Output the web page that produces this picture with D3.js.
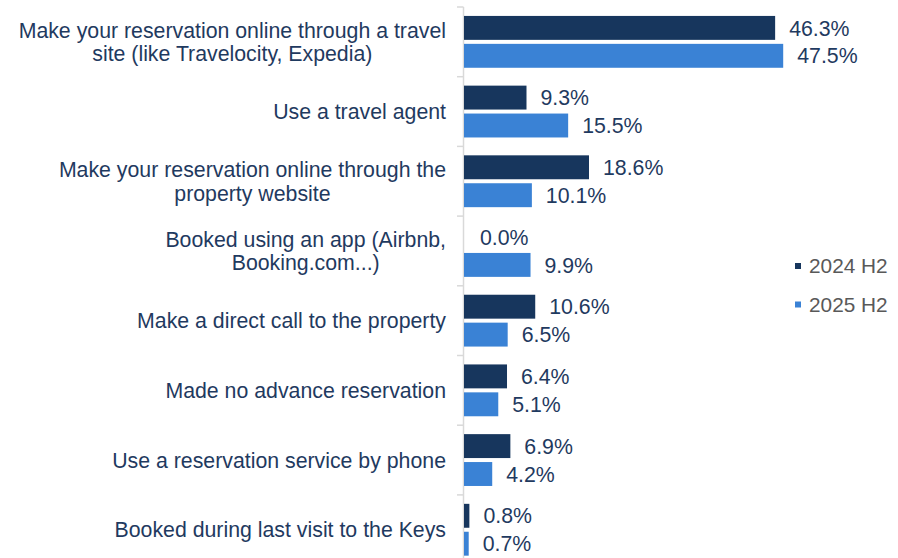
<!DOCTYPE html>
<html>
<head>
<meta charset="utf-8">
<script src="https://cdn.jsdelivr.net/npm/d3@7"></script>
<style>
  html, body { margin: 0; padding: 0; background: #ffffff; }
  svg { display: block; font-family: "Liberation Sans", Arial, sans-serif; }
</style>
</head>
<body>
<svg id="chart" width="898" height="558"></svg>
<script>
const categories = [
  "Make your reservation online through a travel\nsite (like Travelocity, Expedia)",
  "Use a travel agent",
  "Make your reservation online through the\nproperty website",
  "Booked using an app (Airbnb,\nBooking.com...)",
  "Make a direct call to the property",
  "Made no advance reservation",
  "Use a reservation service by phone",
  "Booked during last visit to the Keys"
];
const seriesNames = ["2024 H2", "2025 H2"];
const values2024H2 = [46.3, 9.3, 18.6, 0.0, 10.6, 6.4, 6.9, 0.8];
const values2025H2 = [47.5, 15.5, 10.1, 9.9, 6.5, 5.1, 4.2, 0.7];
const seriesValues = [values2024H2, values2025H2];
const seriesColors = ["#17365d", "#3a82d5"];

const svg = d3.select("#chart");
const textColor = "#1f3a60";
const fontSize = 21.3;

const y0 = d3.scaleBand().domain(d3.range(categories.length)).range([7, 7 + 69.7 * categories.length]);
const y1 = d3.scaleBand().domain(seriesNames).range([0, y0.bandwidth()]).paddingInner(0.143).paddingOuter(0.32);
const x = d3.scaleLinear().domain([0, 50]).range([464, 464 + 6.72 * 50]);

// axis
const axisG = svg.append("g");
axisG.append("line")
  .attr("x1", 463.5).attr("x2", 463.5)
  .attr("y1", y0.range()[0]).attr("y2", 558)
  .attr("stroke", "#d9d9d9").attr("stroke-width", 1.5);
const boundaries = d3.range(categories.length + 1).map(i => y0.range()[0] + i * y0.step());
axisG.selectAll("line.tick").data(boundaries).join("line")
  .attr("class", "tick")
  .attr("x1", 457).attr("x2", 463.5)
  .attr("y1", d => d).attr("y2", d => d)
  .attr("stroke", "#d9d9d9").attr("stroke-width", 1.5);

// bars
const groups = svg.selectAll("g.cat").data(categories).join("g")
  .attr("class", "cat")
  .attr("transform", (d, i) => `translate(0,${y0(i)})`);

groups.each(function(c, i) {
  const g = d3.select(this);
  seriesNames.forEach((s, si) => {
    const v = seriesValues[si][i];
    g.append("rect")
      .attr("x", x(0))
      .attr("y", y1(s))
      .attr("width", Math.max(x(v) - x(0), v > 0 ? 2 : 0))
      .attr("height", y1.bandwidth())
      .attr("fill", seriesColors[si]);
    g.append("text")
      .attr("x", Math.max(x(v), x(0) + 2) + 14)
      .attr("y", y1(s) + y1.bandwidth() / 2)
      .attr("dy", "0.36em")
      .attr("fill", textColor)
      .attr("font-size", fontSize)
      .text(v.toFixed(1) + "%");
  });
  // category label: block right-aligned, lines centered within block
  const lines = c.split("\n");
  const lh = 23.5;
  const t = g.append("text")
    .attr("text-anchor", "middle")
    .attr("fill", textColor)
    .attr("font-size", fontSize);
  const spans = lines.map((ln, li) => t.append("tspan")
      .attr("y", y0.bandwidth() / 2 + (li - (lines.length - 1) / 2) * lh)
      .attr("dy", "0.36em")
      .text(ln));
  const maxW = d3.max(spans, sp => sp.node().getComputedTextLength());
  spans.forEach(sp => sp.attr("x", 446 - maxW / 2));
});

// legend
const legend = svg.append("g");
seriesNames.forEach((s, si) => {
  const cy = 266 + si * 38.5;
  legend.append("rect")
    .attr("x", 795).attr("y", cy - 3).attr("width", 6).attr("height", 6)
    .attr("fill", seriesColors[si]);
  legend.append("text")
    .attr("x", 809).attr("y", cy).attr("dy", "0.36em")
    .attr("fill", "#595959").attr("font-size", 20.8)
    .text(s);
});
</script>
</body>
</html>
